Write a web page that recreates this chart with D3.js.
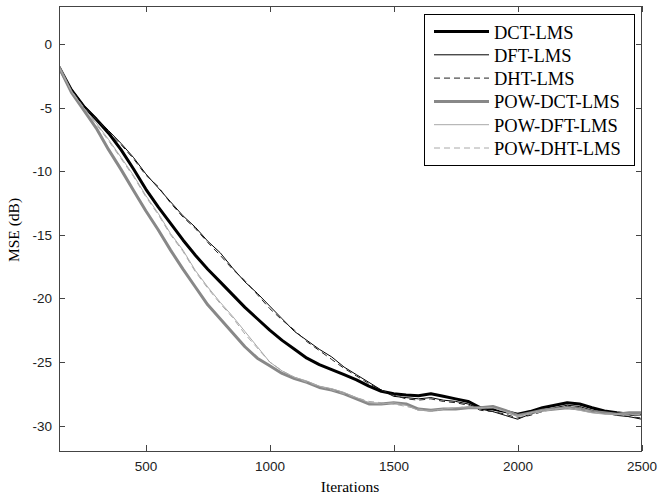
<!DOCTYPE html>
<html>
<head>
<meta charset="utf-8">
<script src="https://cdn.jsdelivr.net/npm/d3@7"></script>
<style>
  body { margin: 0; background: #fff; }
  .tick-label { font-family: "Liberation Sans", Arial, sans-serif; font-size: 13.5px; fill: #222; }
  .axis-label { font-family: "Liberation Serif", "Times New Roman", serif; font-size: 15.5px; fill: #000; }
  .legend-text { font-family: "Liberation Serif", "Times New Roman", serif; font-size: 18.5px; fill: #000; }
</style>
</head>
<body>
<svg width="658" height="499"></svg>
<script>
// Data (MSE in dB every 50 iterations)
const iterations = d3.range(150, 2501, 50);

const dctLms = [-1.8, -3.6, -4.9, -5.9, -7.0, -8.3, -9.8, -11.4,
  -12.8, -14.1, -15.4, -16.6, -17.7, -18.7, -19.7, -20.7, -21.6, -22.5,
  -23.3, -24.0, -24.7, -25.2, -25.6, -26.0, -26.4, -26.9, -27.3, -27.5,
  -27.6, -27.65, -27.5, -27.7, -27.9, -28.1, -28.6, -28.7, -28.9, -29.1,
  -28.9, -28.6, -28.4, -28.2, -28.3, -28.6, -28.85, -29.0, -29.1, -29.1];

const dftLms = [-1.8, -3.5, -4.8, -5.8, -6.8, -7.8, -8.9, -10.2,
  -11.3, -12.4, -13.5, -14.4, -15.5, -16.4, -17.6, -18.7, -19.6, -20.6,
  -21.6, -22.6, -23.3, -24.0, -24.6, -25.4, -26.0, -26.6, -27.2, -27.7,
  -27.8, -27.9, -27.8, -28.0, -28.1, -28.3, -28.7, -28.9, -29.2, -29.5,
  -29.1, -28.8, -28.6, -28.4, -28.5, -28.8, -29.0, -29.2, -29.3, -29.5];

const dhtLms = [-1.8, -3.6, -4.9, -5.9, -6.9, -7.9, -9.0, -10.3,
  -11.2, -12.5, -13.6, -14.5, -15.6, -16.6, -17.7, -18.6, -19.7, -20.8,
  -21.7, -22.5, -23.4, -24.1, -24.8, -25.5, -26.1, -26.7, -27.2, -27.6,
  -27.9, -28.0, -27.9, -28.1, -28.2, -28.4, -28.8, -28.9, -29.1, -29.4,
  -29.2, -28.9, -28.6, -28.5, -28.6, -28.8, -29.0, -29.1, -29.3, -29.4];

const powDctLms = [-1.8, -3.8, -5.2, -6.6, -8.3, -9.85, -11.5, -13.1,
  -14.6, -16.2, -17.7, -19.1, -20.5, -21.6, -22.7, -23.8, -24.7, -25.3,
  -25.9, -26.3, -26.6, -27.0, -27.2, -27.5, -27.9, -28.3, -28.3, -28.2,
  -28.3, -28.7, -28.8, -28.7, -28.7, -28.6, -28.6, -28.5, -28.8, -29.2,
  -29.0, -28.8, -28.7, -28.6, -28.7, -28.9, -29.0, -29.1, -29.0, -29.0];

const powDftLms = [-1.8, -3.7, -5.0, -6.2, -7.5, -8.9, -10.3, -11.9,
  -13.3, -14.9, -16.2, -17.8, -19.1, -20.3, -21.4, -22.6, -23.8, -25.0,
  -25.7, -26.2, -26.5, -26.9, -27.1, -27.4, -27.8, -28.2, -28.3, -28.2,
  -28.4, -28.8, -28.8, -28.7, -28.6, -28.6, -28.6, -28.6, -28.9, -29.3,
  -29.0, -28.8, -28.7, -28.6, -28.8, -29.0, -29.1, -29.1, -29.1, -29.2];

const powDhtLms = [-1.8, -3.7, -5.0, -6.3, -7.6, -9.0, -10.4, -12.0,
  -13.4, -15.0, -16.3, -17.9, -19.2, -20.4, -21.5, -22.8, -23.9, -25.0,
  -25.7, -26.2, -26.6, -26.9, -27.2, -27.5, -27.8, -28.1, -28.2, -28.3,
  -28.5, -28.7, -28.9, -28.7, -28.6, -28.5, -28.6, -28.6, -28.9, -29.2,
  -29.1, -28.9, -28.7, -28.6, -28.7, -28.9, -29.1, -29.1, -29.2, -29.1];

const xTicks = [500, 1000, 1500, 2000, 2500];
const yTicks = [0, -5, -10, -15, -20, -25, -30];

const seriesNames = ["DCT-LMS", "DFT-LMS", "DHT-LMS", "POW-DCT-LMS", "POW-DFT-LMS", "POW-DHT-LMS"];
const seriesValues = [dctLms, dftLms, dhtLms, powDctLms, powDftLms, powDhtLms];

// line styles per series
const styles = [
  { color: "#000", width: 3, dash: null },
  { color: "#000", width: 1, dash: null },
  { color: "#222", width: 1, dash: "6,4" },
  { color: "#888", width: 3, dash: null },
  { color: "#a8a8a8", width: 1, dash: null },
  { color: "#a8a8a8", width: 1, dash: "6,4" }
];

// Plot box
const box = { left: 59, right: 641.6, top: 6, bottom: 451 };

const svg = d3.select("svg");

const xScale = d3.scaleLinear().domain([150, 2500]).range([box.left, box.right]);
const yScale = d3.scaleLinear().domain([-32, 3]).range([box.bottom, box.top]);

svg.append("defs").append("clipPath").attr("id", "plot-clip")
  .append("rect")
  .attr("x", box.left).attr("y", box.top)
  .attr("width", box.right - box.left).attr("height", box.bottom - box.top);

// Lines
const line = d3.line()
  .x(d => xScale(d[0]))
  .y(d => yScale(d[1]));

const plot = svg.append("g").attr("clip-path", "url(#plot-clip)");

seriesValues.forEach((vals, i) => {
  const pts = iterations.map((it, j) => [it, vals[j]]);
  plot.append("path")
    .datum(pts)
    .attr("d", line)
    .attr("fill", "none")
    .attr("stroke", styles[i].color)
    .attr("stroke-width", styles[i].width)
    .attr("stroke-linejoin", "round")
    .attr("stroke-dasharray", styles[i].dash);
});

// Axes: MATLAB style box with inward ticks
const axisColor = "#444";
const tickLen = 6;

const axesG = svg.append("g").attr("shape-rendering", "crispEdges");

axesG.append("rect")
  .attr("x", box.left).attr("y", box.top)
  .attr("width", box.right - box.left).attr("height", box.bottom - box.top)
  .attr("fill", "none")
  .attr("stroke", axisColor);

xTicks.forEach(t => {
  const x = Math.round(xScale(t));
  axesG.append("line").attr("x1", x).attr("x2", x)
    .attr("y1", box.bottom).attr("y2", box.bottom - tickLen).attr("stroke", axisColor);
  axesG.append("line").attr("x1", x).attr("x2", x)
    .attr("y1", box.top).attr("y2", box.top + tickLen).attr("stroke", axisColor);
  svg.append("text")
    .attr("class", "tick-label")
    .attr("x", x)
    .attr("y", 471)
    .attr("text-anchor", "middle")
    .text(t);
});

yTicks.forEach(t => {
  const y = Math.round(yScale(t));
  axesG.append("line").attr("x1", box.left).attr("x2", box.left + tickLen)
    .attr("y1", y).attr("y2", y).attr("stroke", axisColor);
  axesG.append("line").attr("x1", box.right).attr("x2", box.right - tickLen)
    .attr("y1", y).attr("y2", y).attr("stroke", axisColor);
  svg.append("text")
    .attr("class", "tick-label")
    .attr("x", 52)
    .attr("y", y + 5)
    .attr("text-anchor", "end")
    .text(t);
});

// Axis labels
svg.append("text")
  .attr("class", "axis-label")
  .attr("x", 350)
  .attr("y", 492)
  .attr("text-anchor", "middle")
  .text("Iterations");

svg.append("text")
  .attr("class", "axis-label")
  .attr("transform", "translate(19,230) rotate(-90)")
  .attr("text-anchor", "middle")
  .text("MSE (dB)");

// Legend
const legend = svg.append("g");
legend.append("rect")
  .attr("x", 424.5).attr("y", 14.5)
  .attr("width", 210).attr("height", 151)
  .attr("fill", "#fff")
  .attr("stroke", "#000")
  .attr("shape-rendering", "crispEdges");

seriesNames.forEach((name, i) => {
  const cy = 32.5 + i * 23.3;
  legend.append("line")
    .attr("x1", 434).attr("x2", 489)
    .attr("y1", cy - 1).attr("y2", cy - 1)
    .attr("stroke", styles[i].color)
    .attr("stroke-width", styles[i].width)
    .attr("stroke-dasharray", styles[i].dash);
  legend.append("text")
    .attr("class", "legend-text")
    .attr("x", 494)
    .attr("y", cy + 6)
    .text(name);
});
</script>
</body>
</html>
